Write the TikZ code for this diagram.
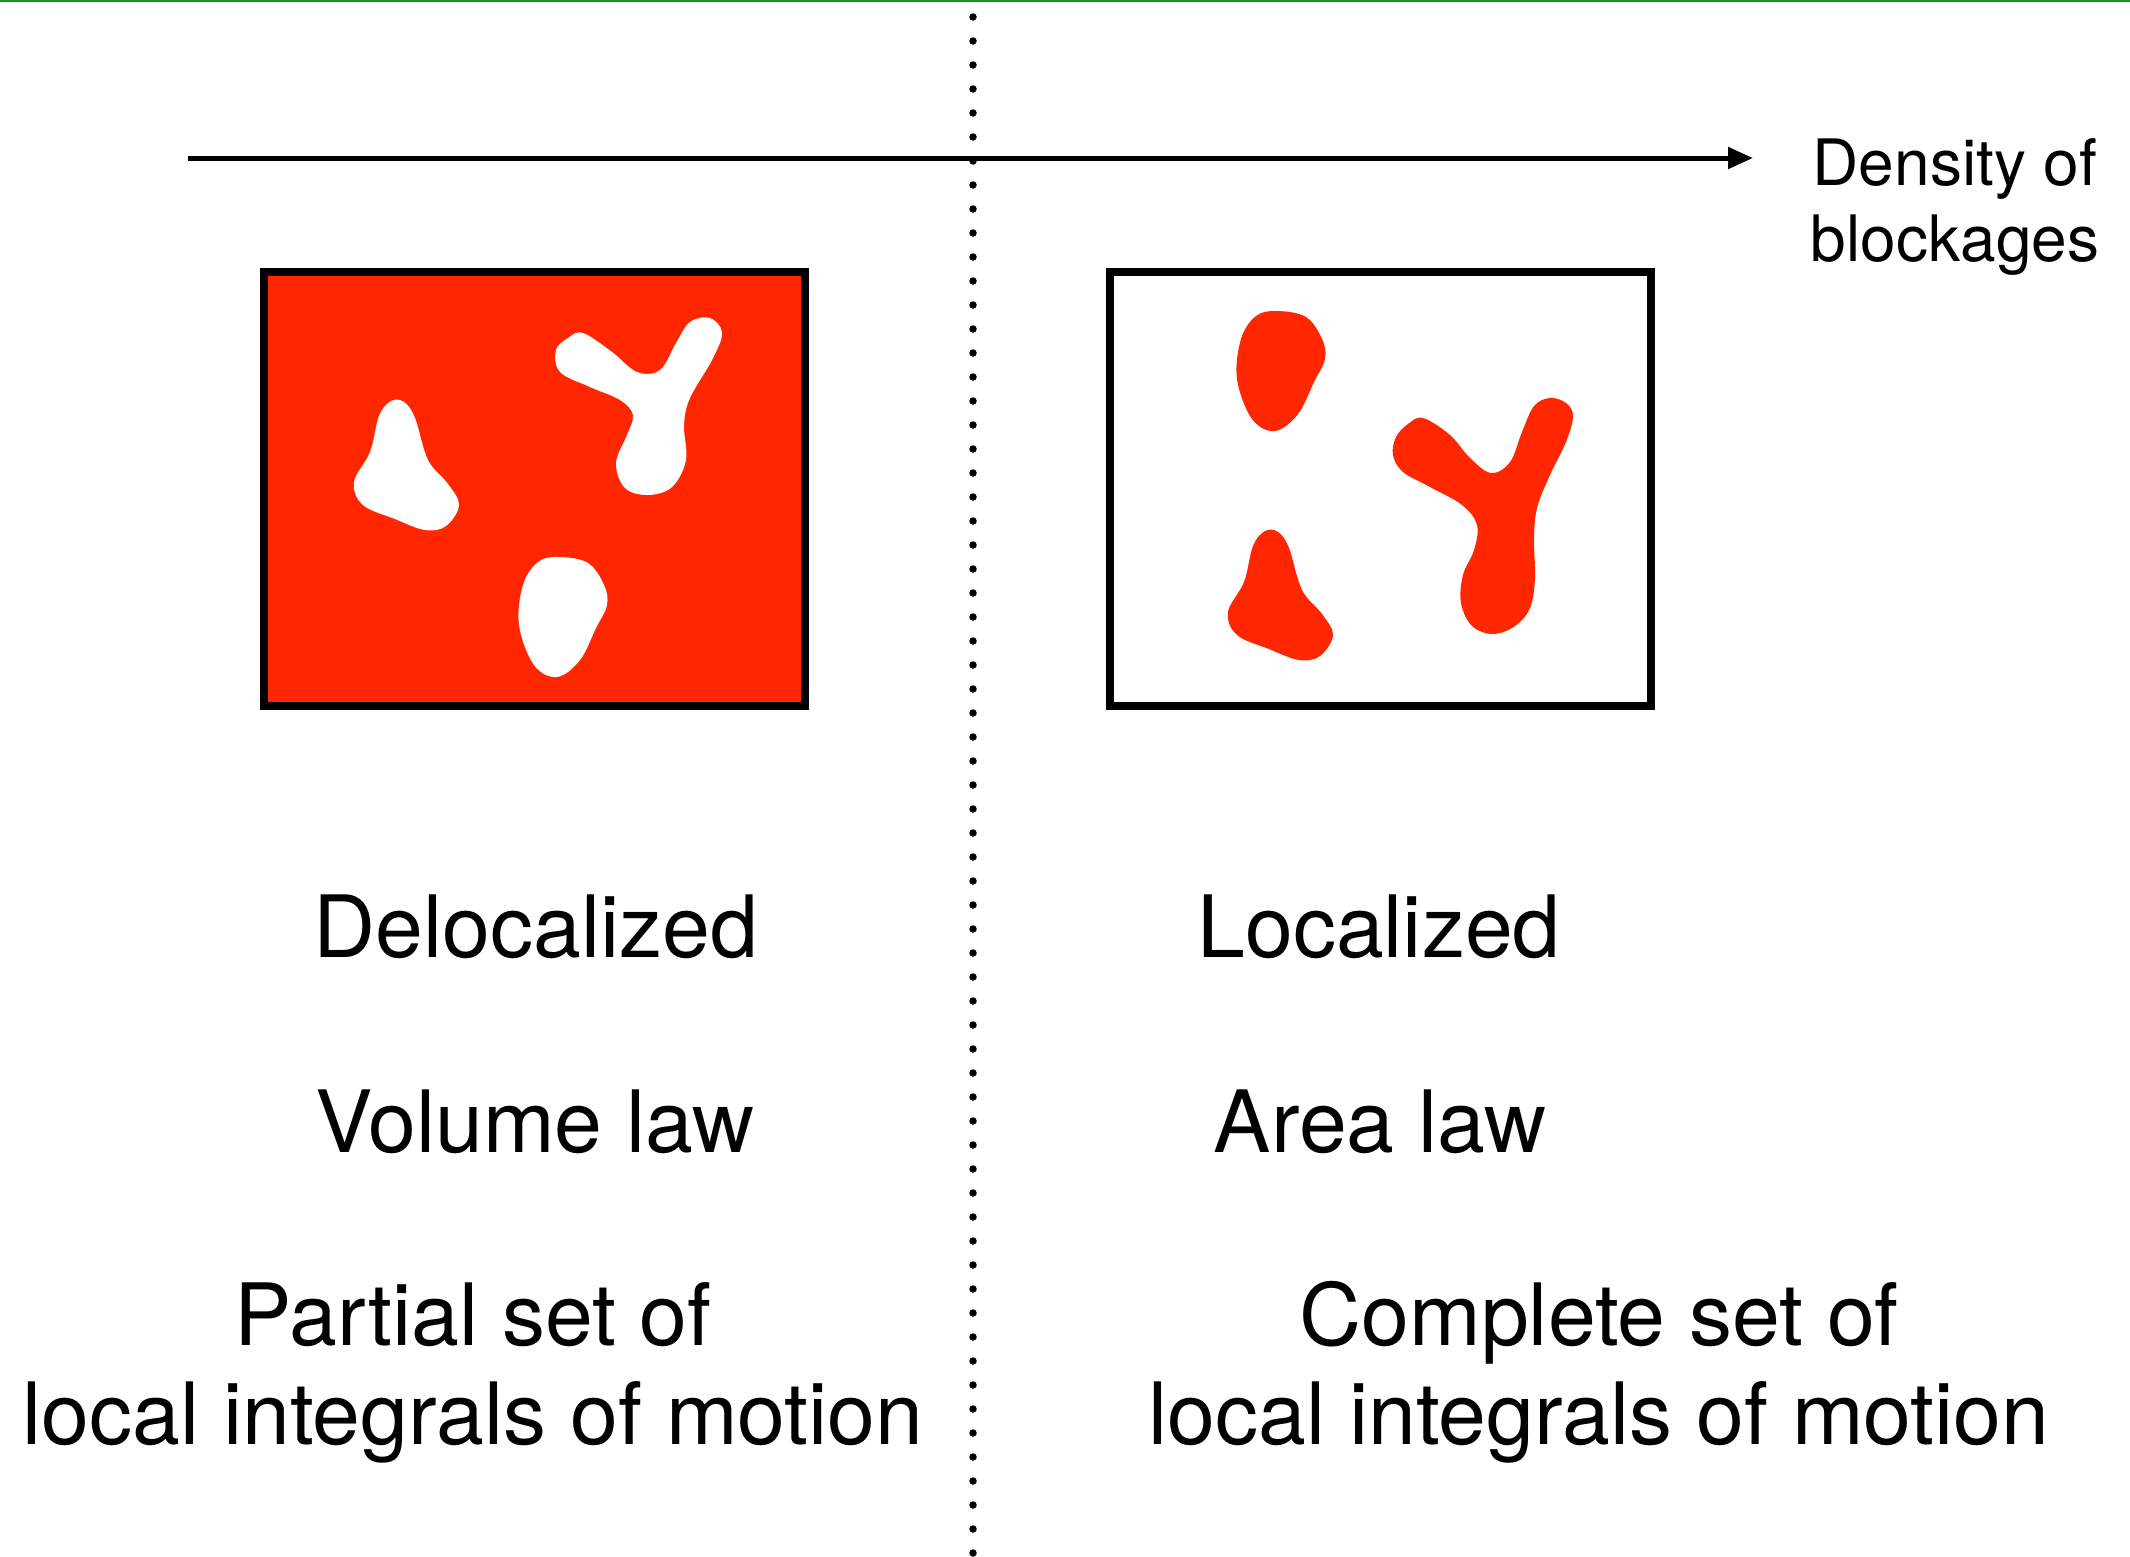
\documentclass[tikz,border=0pt]{standalone}
\usepackage{fontspec}
\setmainfont{TeX Gyre Heros}
\usetikzlibrary{arrows.meta}
\definecolor{blockred}{RGB}{255,38,0}
\definecolor{topgreen}{RGB}{20,150,30}
\begin{document}
\begin{tikzpicture}[x=1pt,y=-1pt,
  frame/.style={draw=black, line width=8pt, inner sep=0pt, outer sep=0pt,
                minimum width=541pt, minimum height=434pt},
  blobplot/.style={smooth cycle, tension=0.6},
  bigtext/.style={inner sep=0pt, anchor=base, font=\fontsize{86}{99}\selectfont},
  smalltext/.style={inner sep=0pt, anchor=base, font=\fontsize{64}{76}\selectfont},
  divider/.style={line width=7.5pt, line cap=round, dash pattern=on 0pt off 24pt},
  axisarrow/.style={line width=5pt, -{Triangle[length=25pt,width=21pt]}}
]
\useasboundingbox (0,0) rectangle (2130,1556);
\fill[topgreen] (0,0) rectangle (2130,2);

% divider
\coordinate (dtop) at (973,17);
\coordinate (dbot) at (973,1565);
\draw[divider] (dtop) -- (dbot);

% axis arrow
\coordinate (astart) at (188,158);
\coordinate (aend) at (1753,158);
\draw[axisarrow] (astart) -- (aend);
\node[smalltext] (dens1) at (1955,185) {Density of};
\node[smalltext] (dens2) at (1955,261) {blockages};

% boxes
\node[frame, fill=blockred] (leftbox) at (534.5,489) {};
\node[frame] (rightbox) at (1380.5,489) {};

% shapes reused in both boxes
\def\triblob{(391,401) (404,402) (415,418) (428,460) (448,484) (459,505)
 (446,526) (425,530) (395,519) (363,505) (354,482) (370,452) (379,416)}
\def\ovalblob{(559,557) (588,563) (604,585) (607,605) (596,628) (580,660)
 (557,677) (534,665) (519,625) (523,585) (538,562)}

% white blobs in left box
\fill[white] plot[blobplot] coordinates {\triblob};
\fill[white] plot[blobplot] coordinates {\ovalblob};
\fill[white] plot[blobplot] coordinates {
 (583,333) (612,352) (637,372) (660,370) (676,343) (690,322) (710,318)
 (722,333) (712,360) (690,398) (684,425) (686,460) (672,487) (648,495)
 (625,488) (616,463) (627,435) (633,415) (620,400) (590,387) (560,372)
 (556,350) (568,338)};

% red blobs in right box
\fill[blockred, shift={(874,130)}] plot[blobplot] coordinates {\triblob};
\fill[blockred, shift={(718,-246)}] plot[blobplot] coordinates {\ovalblob};
\fill[blockred] plot[blobplot] coordinates {
 (1423,418) (1450,435) (1470,458) (1491,473) (1510,462) (1522,432)
 (1534,406) (1550,398) (1566,403) (1573,416) (1566,442) (1550,475)
 (1537,508) (1534,540) (1535,578) (1530,608) (1515,626) (1493,634)
 (1472,626) (1461,603) (1463,575) (1474,550) (1477,525) (1462,505)
 (1430,487) (1403,472) (1393,455) (1396,437) (1408,424)};

% texts left
\node[bigtext] (deloc) at (536,957) {Delocalized};
\node[bigtext] (vol) at (535,1152) {Volume law};
\node[bigtext] (part1) at (473,1345) {Partial set of};
\node[bigtext] (part2) at (473,1444) {local integrals of motion};

% texts right
\node[bigtext] (loc) at (1379,957) {Localized};
\node[bigtext] (area) at (1380,1152) {Area law};
\node[bigtext] (comp1) at (1599,1345) {Complete set of};
\node[bigtext] (comp2) at (1599,1444) {local integrals of motion};
\end{tikzpicture}
\end{document}
